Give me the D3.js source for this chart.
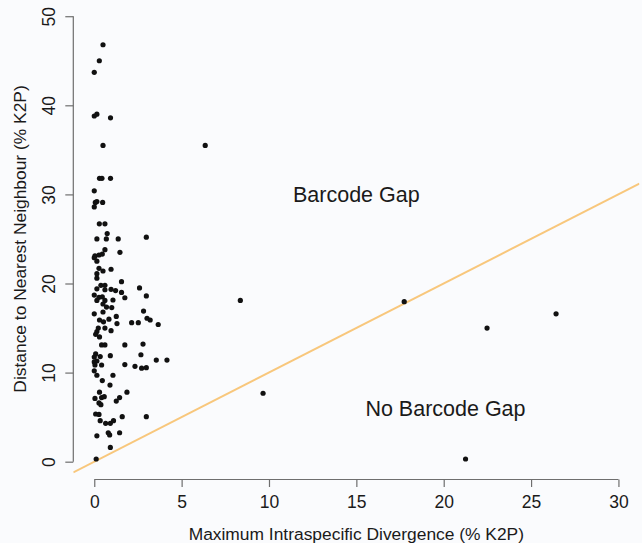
<!DOCTYPE html>
<html>
<head>
<meta charset="utf-8">
<script src="https://cdn.jsdelivr.net/npm/d3@7"></script>
<style>
  html, body { margin: 0; padding: 0; background: #fafbfd; }
  svg { display: block; font-family: "Liberation Sans", Arial, sans-serif; }
</style>
</head>
<body>
<div id="root"></div>
<script>
// maximum intraspecific divergence (% K2P)
var maxIntra = [
  0.50, 0.29, 0.00, 0.00, 0.15, 0.93, 0.50, 0.30, 0.44, 0.93,
  0.00, 0.06, 0.15, 0.48, 0.00, 0.29, 0.61, 0.74, 0.15, 0.69,
  1.37, 2.98, 0.61, 1.47, 0.04, 0.27, 0.46, 0.00, 0.15, 0.27,
  0.50, 0.96, 0.15, 0.15, 1.56, 0.38, 0.61, 0.15, 0.61, 0.96,
  1.22, 1.56, 2.59, 0.00, 0.27, 0.46, 2.98, 1.75, 0.15, 0.61,
  1.07, 0.50, 0.70, 1.00, 0.00, 0.50, 2.82, 1.26, 0.30, 0.53,
  0.84, 1.30, 2.14, 2.52, 3.02, 3.20, 3.66, 0.23, 0.61, 0.96,
  0.15, 0.08, 0.30, 0.42, 0.61, 1.75, 2.79, 0.08, 0.00, 0.34,
  0.92, 2.67, 0.00, 0.15, 0.04, 0.42, 1.75, 2.33, 2.71, 2.98,
  3.55, 4.16, 0.00, 0.15, 1.07, 0.46, 0.90, 0.30, 1.87, 0.04,
  0.42, 0.57, 1.45, 1.26, 0.27, 0.38, 0.08, 0.27, 0.34, 0.65,
  0.92, 1.10, 1.60, 2.98, 0.15, 0.80, 0.88, 1.45, 0.92, 0.11,
  6.35, 8.36, 17.74, 9.66, 22.48, 26.43, 21.25
];
// distance to nearest neighbour (% K2P)
var nearestNeighbour = [
  46.8, 45.0, 43.7, 38.8, 39.0, 38.6, 35.5, 31.8, 31.8, 31.8,
  30.4, 29.1, 29.2, 29.1, 28.6, 26.7, 26.7, 25.6, 25.0, 25.0,
  25.0, 25.2, 23.8, 23.5, 23.1, 23.2, 23.3, 22.9, 22.5, 21.7,
  21.4, 21.6, 21.1, 20.6, 20.2, 19.8, 19.8, 19.4, 19.3, 19.35,
  19.2, 19.0, 19.5, 18.7, 18.45, 18.5, 18.6, 18.4, 18.1, 18.1,
  18.15, 17.7, 17.35, 17.3, 16.6, 16.8, 16.9, 16.3, 15.9, 15.7,
  16.0, 15.5, 15.6, 15.6, 16.1, 15.9, 15.4, 15.0, 15.0, 14.7,
  14.6, 14.3, 14.0, 13.1, 13.1, 13.1, 13.2, 12.1, 11.75, 11.8,
  11.9, 12.0, 11.2, 11.3, 10.85, 10.85, 10.9, 10.7, 10.5, 10.55,
  11.4, 11.4, 10.2, 9.7, 9.7, 9.1, 8.6, 7.8, 7.8, 7.1,
  7.2, 7.3, 7.2, 6.8, 6.6, 6.4, 5.35, 5.3, 4.6, 4.3,
  4.3, 4.6, 5.05, 5.05, 2.9, 3.25, 3.0, 3.25, 1.6, 0.3,
  35.5, 18.1, 17.96, 7.68, 15.0, 16.6, 0.3
];
var xTicks = [0, 5, 10, 15, 20, 25, 30];
var yTicks = [0, 10, 20, 30, 40, 50];
var regionLabels = [
  { text: "Barcode Gap", x: 15, y: 30 },
  { text: "No Barcode Gap", x: 20.1, y: 6 }
];

var width = 642;
var height = 543;

var points = maxIntra.map(function(d, i) {
  return { x: d, y: nearestNeighbour[i] };
});

// R-style 4% padding around 0-30 / 0-50
var x = d3.scaleLinear().domain([-1.2, 31.2]).range([73.3, 639.4]);
var y = d3.scaleLinear().domain([-2, 52]).range([479.5, -1.6]);

var svg = d3.select('#root')
  .append('svg')
    .attr('width', width)
    .attr('height', height);

svg.append('clipPath')
  .attr('id', 'plot-clip')
  .append('rect')
    .attr('x', x(-1.2))
    .attr('y', y(52))
    .attr('width', x(31.2) - x(-1.2))
    .attr('height', y(-2) - y(52));

// 1:1 line
svg.append('line')
  .attr('clip-path', 'url(#plot-clip)')
  .attr('x1', x(-1.2)).attr('y1', y(-1.2))
  .attr('x2', x(31.2)).attr('y2', y(31.2))
  .attr('stroke', '#f8c77c')
  .attr('stroke-width', 2);

svg.selectAll('circle')
  .data(points)
  .enter()
  .append('circle')
    .attr('cx', function(d) { return x(d.x); })
    .attr('cy', function(d) { return y(d.y); })
    .attr('r', 2.6)
    .attr('fill', '#111');

// axes drawn R-style: line only between first and last tick
var xAxis = svg.append('g')
  .attr('transform', 'translate(0,' + y(-2) + ')')
  .call(d3.axisBottom(x).tickValues(xTicks).tickSize(7.5).tickSizeOuter(0).tickPadding(9));
xAxis.select('.domain').attr('d', 'M' + x(0) + ',0H' + x(30));

var yAxis = svg.append('g')
  .attr('transform', 'translate(' + x(-1.2) + ',0)')
  .call(d3.axisLeft(y).tickValues(yTicks).tickSize(8).tickSizeOuter(0));
yAxis.select('.domain').attr('d', 'M0,' + y(0) + 'V' + y(50));
yAxis.selectAll('.tick text')
  .attr('transform', 'rotate(-90)')
  .attr('x', 0)
  .attr('y', -18)
  .attr('dy', '0')
  .attr('text-anchor', 'middle');

svg.selectAll('.domain, .tick line')
  .attr('stroke', '#6e6e6e')
  .attr('stroke-width', 1.2);
svg.selectAll('.tick text')
  .attr('fill', '#1a1a1a')
  .style('font-size', '17.5px')
  .style('font-family', '"Liberation Sans", Arial, sans-serif');

svg.append('text')
  .attr('x', (x(0) + x(30)) / 2)
  .attr('y', 540)
  .attr('text-anchor', 'middle')
  .attr('fill', '#1a1a1a')
  .style('font-size', '17.4px')
  .text('Maximum Intraspecific Divergence (% K2P)');

svg.append('text')
  .attr('transform', 'translate(26,' + ((y(0) + y(50)) / 2) + ') rotate(-90)')
  .attr('text-anchor', 'middle')
  .attr('fill', '#1a1a1a')
  .style('font-size', '17.4px')
  .text('Distance to Nearest Neighbour (% K2P)');

svg.selectAll('.region-label')
  .data(regionLabels)
  .enter()
  .append('text')
    .attr('class', 'region-label')
    .attr('x', function(d) { return x(d.x); })
    .attr('y', function(d) { return y(d.y); })
    .attr('dy', '0.35em')
    .attr('text-anchor', 'middle')
    .attr('fill', '#1a1a1a')
    .style('font-size', '21.5px')
    .text(function(d) { return d.text; });
</script>
</body>
</html>
